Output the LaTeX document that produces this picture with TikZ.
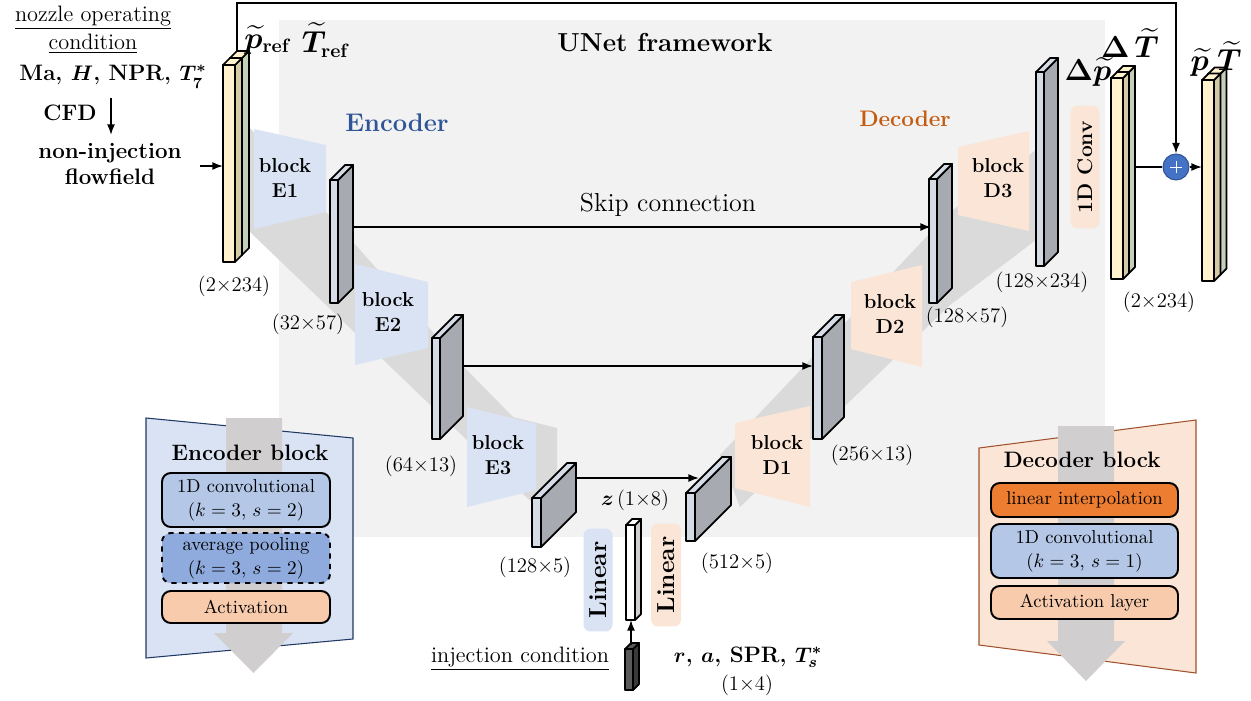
\documentclass[tikz,border=0pt]{standalone}
\usepackage{amsmath}
\usepackage{bm}
\usetikzlibrary{arrows.meta}

\definecolor{framegray}{HTML}{F2F2F2}
\definecolor{bandgray}{HTML}{DADADA}
\definecolor{encfill}{HTML}{DAE3F3}
\definecolor{decfill}{HTML}{FBE5D6}
\definecolor{mapfront}{HTML}{D6DCE5}
\definecolor{mapside}{HTML}{A7ABB1}
\definecolor{ioface}{HTML}{FFF2CC}
\definecolor{iotan}{HTML}{D4CAA6}
\definecolor{iogreen}{HTML}{C3CFB8}
\definecolor{encblue}{HTML}{2F5597}
\definecolor{decorange}{HTML}{C55A11}
\definecolor{convblue}{HTML}{B4C7E7}
\definecolor{poolblue}{HTML}{8FAADC}
\definecolor{actpeach}{HTML}{F8CBAD}
\definecolor{interp}{HTML}{ED7D31}
\definecolor{flowarrow}{HTML}{D0CECE}
\definecolor{sumblue}{HTML}{4472C4}
\definecolor{encedge}{HTML}{1F3864}
\definecolor{decedge}{HTML}{A0522D}
\definecolor{zside}{HTML}{CFCFCF}
\definecolor{injfront}{HTML}{5A5A5A}
\definecolor{injside}{HTML}{3A3A3A}

% bold old-style seven from the math italic font
\newcommand{\boldseven}{\text{\usefont{OML}{cmm}{b}{it}7}}

% a feature map drawn as a slab: x, top y, bottom y, face width, depth, face colour, side colour
\newcommand{\slab}[7]{%
  \filldraw[slabline, fill=#7] (#1+#4,#2) -- (#1+#4+#5,#2-#5) -- (#1+#4+#5,#3-#5) -- (#1+#4,#3) -- cycle;
  \filldraw[slabline, fill=#6] (#1,#2) -- (#1+#5,#2-#5) -- (#1+#4+#5,#2-#5) -- (#1+#4,#2) -- cycle;
  \filldraw[slabline, fill=#6] (#1,#2) rectangle (#1+#4,#3);
}

\begin{document}
\begin{tikzpicture}[x=0.02cm, y=-0.02cm,
  slabline/.style={draw=black, line width=1pt, line join=round},
  arr/.style={-{Latex[length=6pt,width=4.5pt]}, line width=0.9pt},
  blocktext/.style={font=\bfseries\fontsize{11.5}{14.5}\selectfont, align=center, inner sep=0pt},
  dimtext/.style={font=\fontsize{11.8}{14}\selectfont, inner sep=0pt},
  sidetext/.style={font=\fontsize{12.7}{15.3}\selectfont, align=center, inner sep=0pt},
  boldside/.style={font=\bfseries\fontsize{12.7}{15.3}\selectfont, align=center, inner sep=0pt},
  symtext/.style={font=\fontsize{16}{19}\selectfont, inner sep=0pt},
  layerbox/.style={draw=black, line width=1.1pt, rounded corners=5pt, align=center,
    inner sep=0pt, font=\fontsize{10.6}{13.6}\selectfont},
  tagbox/.style={rounded corners=4pt, inner sep=0pt, rotate=90,
    font=\bfseries\fontsize{14}{16}\selectfont},
  flow/.style={fill=flowarrow}
]
\useasboundingbox (0,0) rectangle (1251,700);
\fill[white] (0,0) rectangle (1251,700);

% framework background
\fill[framegray] (279,20) rectangle (1105,537);
\node[font=\bfseries\fontsize{14.8}{17}\selectfont] (title) at (665,43) {UNet framework};

% data-flow bands behind the blocks
\fill[bandgray] (250,128) -- (353,242) -- (463,366) -- (513,417) -- (557,428) -- (557,498)
  -- (545,515) -- (250,232) -- cycle;
\fill[bandgray] (720,455) -- (950,212) -- (1036,150) -- (1036,240) -- (950,305) -- (740,507) -- cycle;

% skip of the reference field to the output sum
\coordinate (fbstart) at (237,53);
\coordinate (fbleft) at (237,3);
\coordinate (fbright) at (1176,3);
\node[circle, fill=sumblue, draw=encblue, line width=0.6pt, minimum size=0.52cm, inner sep=0pt] (sum) at (1176,167) {};
\draw[white, line width=0.5pt] (1170,167) -- (1182,167) (1176,161) -- (1176,173);
\draw[arr] (fbstart) -- (fbleft) -- (fbright) -- (sum.north);

% encoder and decoder blocks
\fill[encfill] (254,129) -- (326,145) -- (326,212) -- (254,229) -- cycle;
\fill[encfill] (355,264) -- (428,282) -- (428,348) -- (355,365) -- cycle;
\fill[encfill] (467,407) -- (536,424) -- (536,490) -- (467,507) -- cycle;
\fill[decfill] (735,423) -- (810,406) -- (810,507) -- (735,488) -- cycle;
\fill[decfill] (851,282) -- (922,265) -- (922,367) -- (851,349) -- cycle;
\fill[decfill] (958,147) -- (1029,131) -- (1029,231) -- (958,215) -- cycle;
\node[blocktext] (bE1) at (285,178) {block\\E1};
\node[blocktext] (bE2) at (388,312) {block\\E2};
\node[blocktext] (bE3) at (498,455) {block\\E3};
\node[blocktext] (bD1) at (777,455) {block\\D1};
\node[blocktext] (bD2) at (890,314) {block\\D2};
\node[blocktext] (bD3) at (998,178) {block\\D3};

\node[font=\bfseries\fontsize{14.5}{17}\selectfont, text=encblue] (enc) at (397,123) {Encoder};
\node[font=\bfseries\fontsize{12.8}{15}\selectfont, text=decorange] (dec) at (905,119) {Decoder};

% labelled layers
\node[tagbox, fill=encfill, minimum width=2.06cm, minimum height=0.58cm] (linL) at (598,580) {Linear};
\node[tagbox, fill=decfill, minimum width=2.06cm, minimum height=0.6cm] (linR) at (666,575) {Linear};
\node[tagbox, fill=decfill, minimum width=2.46cm, minimum height=0.58cm, font=\bfseries\fontsize{12}{14}\selectfont] (conv) at (1085,167) {1D Conv};

% input, feature maps and output
\slab{230}{58}{255}{12}{7}{ioface}{iogreen}
\slab{223}{65}{262}{12}{7}{ioface}{iotan}
\slab{330}{180}{303}{8}{15}{mapfront}{mapside}
\slab{432}{338}{439}{8}{23}{mapfront}{mapside}
\slab{532}{498}{547}{9}{35}{mapfront}{mapside}
\slab{686}{493}{541}{9}{36}{mapfront}{mapside}
\slab{813}{337}{439}{9}{22}{mapfront}{mapside}
\slab{929}{179}{303}{8}{15}{mapfront}{mapside}
\slab{1036}{72}{266}{8}{14}{mapfront}{mapside}
\slab{626}{525}{620}{9}{6}{white}{zside}
\slab{625}{649}{690}{8}{6}{injfront}{injside}
\slab{1117}{72}{273}{12}{6}{ioface}{iogreen}
\slab{1111}{78}{279}{12}{6}{ioface}{iotan}
\slab{1208}{74}{275}{12}{6.5}{ioface}{iogreen}
\slab{1202}{80}{281}{12}{6.5}{ioface}{iotan}

% connector end points on the maps
\coordinate (e1skip) at (353,227);
\coordinate (d2skip) at (931,227);
\coordinate (e2skip) at (463,366);
\coordinate (d1skip) at (813,366);
\coordinate (e3skip) at (576,478);
\coordinate (d1in) at (699,478);
\coordinate (injtop) at (631,645);
\coordinate (zbot) at (631,620);
\coordinate (dout) at (1135,167);
\coordinate (pout) at (1202,167);
\coordinate (cfdtop) at (111,98);
\coordinate (cfdbot) at (111,135);
\coordinate (flowfrom) at (200,166);
\coordinate (flowto) at (223,166);

\draw[arr] (e1skip) -- (d2skip);
\draw[arr] (e2skip) -- (d1skip);
\draw[arr] (e3skip) -- (d1in);
\draw[arr] (injtop) -- (zbot);
\draw[line width=0.9pt] (dout) -- (sum.west);
\draw[arr] (sum.east) -- (pout);
\draw[arr] (cfdtop) -- (cfdbot);
\draw[arr] (flowfrom) -- (flowto);

\node[font=\fontsize{14.8}{17}\selectfont] (skip) at (668,205) {Skip connection};

% shapes of the maps
\node[dimtext] (s0) at (234,286) {(2×234)};
\node[dimtext] (s1) at (308,324) {(32×57)};
\node[dimtext] (s2) at (421,466) {(64×13)};
\node[dimtext] (s3) at (535,567) {(128×5)};
\node[dimtext] (s4) at (737,563) {(512×5)};
\node[dimtext] (s5) at (872,455) {(256×13)};
\node[dimtext] (s6) at (967,317) {(128×57)};
\node[dimtext] (s7) at (1042,282) {(128×234)};
\node[dimtext] (s8) at (1159,302) {(2×234)};
\node[dimtext] (sz) at (635,500) {$\bm{z}$\,(1×8)};
\node[dimtext] (sinj) at (747,685) {(1×4)};

% symbols of the fields
\node[symtext] (pref) at (268,40) {$\bm{\widetilde p}_{\mathbf{ref}}$};
\node[symtext] (tref) at (326,40) {$\bm{\widetilde T}_{\mathbf{ref}}$};
\node[symtext] (dp) at (1088,72) {$\bm{\Delta\widetilde p}$};
\node[symtext] (dT) at (1130,43) {$\bm{\Delta}\,\bm{\widetilde T}$};
\node[symtext] (pt) at (1216,59) {$\bm{\widetilde p}\;\bm{\widetilde T}$};

% operating condition inputs
\node[sidetext] (noz1) at (93,18) {\underline{nozzle operating}};
\node[sidetext] (noz2) at (93,44) {\underline{condition}};
\node[boldside] (opc) at (113,77) {Ma, $\bm{H}$, NPR, $\bm{T}_{\boldseven}^{\bm{*}}$};
\node[boldside] (cfd) at (70,113) {CFD};
\node[boldside] (nonin) at (110,164) {non-injection\\flowfield};
\node[sidetext] (injc) at (520,659) {\underline{injection condition}};
\node[boldside] (injv) at (748,657) {$\bm{r}$, $\bm{a}$, SPR, $\bm{T}_{\bm{s}}^{\bm{*}}$};

% encoder block detail
\filldraw[fill=encfill, draw=encedge, line width=0.6pt] (146,418) -- (353,438) -- (353,639) -- (146,658) -- cycle;
\fill[flow] (226,418) -- (282,418) -- (282,633) -- (293,633) -- (253.5,673) -- (214,633) -- (226,633) -- cycle;
\node[font=\bfseries\fontsize{12.7}{15}\selectfont] (enct) at (250,453) {Encoder block};
\node[layerbox, fill=convblue, minimum width=3.36cm, minimum height=1.08cm] (ec1) at (246,500) {1D convolutional\\($k = 3$, $s = 2$)};
\node[layerbox, fill=poolblue, dashed, minimum width=3.36cm, minimum height=1.0cm] (ec2) at (246,558) {average pooling\\($k = 3$, $s = 2$)};
\node[layerbox, fill=actpeach, minimum width=3.36cm, minimum height=0.64cm] (ec3) at (246,607) {Activation};

% decoder block detail
\filldraw[fill=decfill, draw=decedge, line width=0.6pt] (979,448) -- (1196,420) -- (1196,673) -- (979,645) -- cycle;
\fill[flow] (1058,426) -- (1114,426) -- (1114,641) -- (1125,641) -- (1086,681) -- (1047,641) -- (1058,641) -- cycle;
\node[font=\bfseries\fontsize{12.7}{15}\selectfont] (dect) at (1082,460) {Decoder block};
\node[layerbox, fill=interp, minimum width=3.74cm, minimum height=0.68cm] (dc1) at (1084.5,500) {linear interpolation};
\node[layerbox, fill=convblue, minimum width=3.74cm, minimum height=1.08cm] (dc2) at (1084.5,551) {1D convolutional\\($k = 3$, $s = 1$)};
\node[layerbox, fill=actpeach, minimum width=3.74cm, minimum height=0.66cm] (dc3) at (1084.5,602.5) {Activation layer};
\end{tikzpicture}
\end{document}
